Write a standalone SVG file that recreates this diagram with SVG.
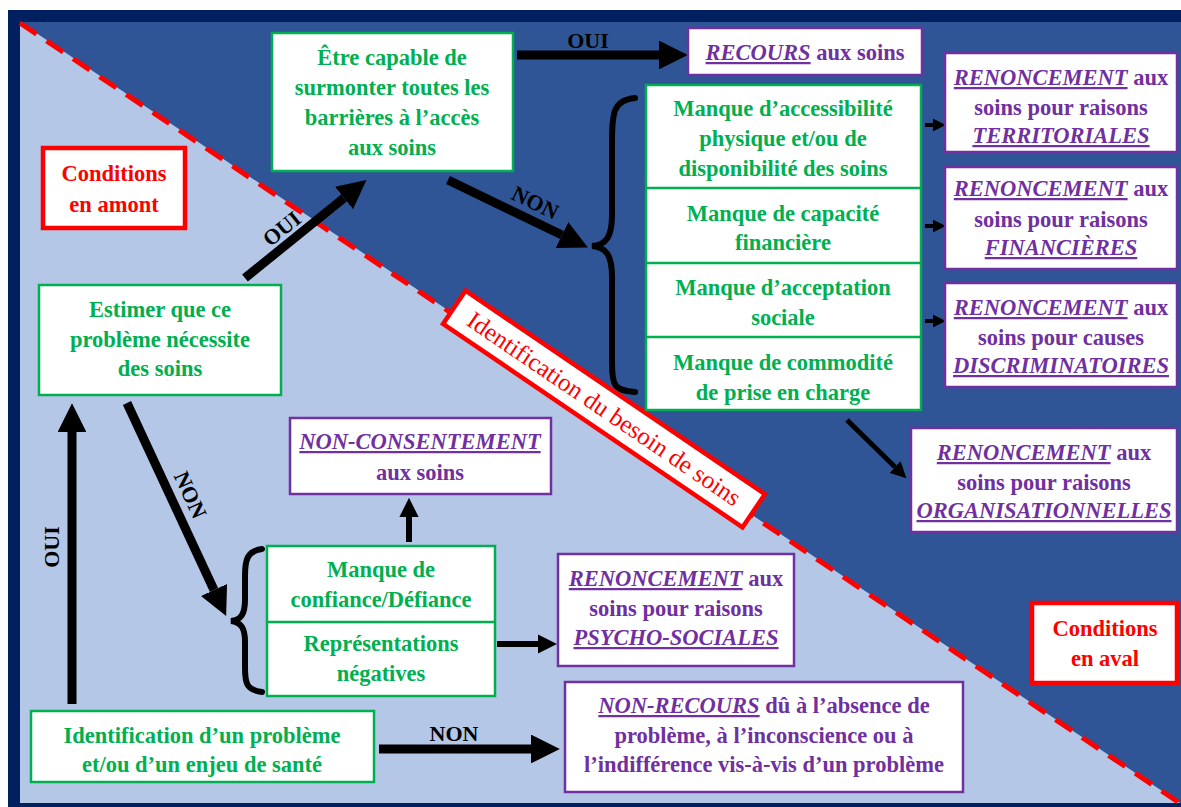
<svg xmlns="http://www.w3.org/2000/svg" width="1181" height="807" viewBox="0 0 1181 807">
<defs>
<style>
text{font-family:"Liberation Serif","Times New Roman",serif;font-weight:bold;font-size:22.5px;text-anchor:middle}
.g{fill:#00B050}
.p{fill:#7030A0}
.r{fill:#FF0000}
.k{fill:#000;font-size:22px}
.it{font-style:italic;text-decoration:underline}
.gb{fill:#fff;stroke:#00B050;stroke-width:2.5}
.pb{fill:#fff;stroke:#7030A0;stroke-width:2.5}
.rb{fill:#fff;stroke:#FF0000;stroke-width:4.5}
.sh{stroke:#000;fill:none}
.brace{stroke:#000;stroke-width:6;fill:none;stroke-linecap:round}
</style>
<marker id="ah" viewBox="0 0 10 10" refX="0" refY="5" markerWidth="3.2" markerHeight="3.2" orient="auto" markerUnits="strokeWidth">
<path d="M0,0 L10,5 L0,10 Z" fill="#000"/>
</marker>
</defs>
<rect x="0" y="0" width="1181" height="807" fill="#fff"/>
<g id="background">
<rect x="8" y="10" width="1173" height="797" fill="#002060"/>
<rect x="20" y="22" width="1161" height="781" fill="#2F5597"/>
<polygon points="20,22 1180,803 20,803" fill="#B4C7E7"/>
<line x1="20" y1="23" x2="1178" y2="802" stroke="#FF0000" stroke-width="5" stroke-dasharray="20 12"/>
</g>
<g id="connectors">
<line class="sh" x1="517" y1="55" x2="659" y2="55" stroke-width="9" marker-end="url(#ah)"/>
<line class="sh" x1="448" y1="180" x2="562" y2="235" stroke-width="9" marker-end="url(#ah)"/>
<line class="sh" x1="245" y1="278" x2="344" y2="198" stroke-width="9" marker-end="url(#ah)"/>
<line class="sh" x1="127" y1="403" x2="214" y2="590" stroke-width="9" marker-end="url(#ah)"/>
<line class="sh" x1="72" y1="704" x2="72" y2="432" stroke-width="9" marker-end="url(#ah)"/>
<line class="sh" x1="379" y1="749" x2="531" y2="749" stroke-width="9" marker-end="url(#ah)"/>
<line class="sh" x1="925" y1="125" x2="933" y2="125" stroke-width="4" marker-end="url(#ah)"/>
<line class="sh" x1="925" y1="226" x2="933" y2="226" stroke-width="4" marker-end="url(#ah)"/>
<line class="sh" x1="925" y1="321" x2="933" y2="321" stroke-width="4" marker-end="url(#ah)"/>
<line class="sh" x1="847" y1="420" x2="895" y2="467" stroke-width="5" marker-end="url(#ah)"/>
<line class="sh" x1="409" y1="542" x2="409" y2="517" stroke-width="6" marker-end="url(#ah)"/>
<line class="sh" x1="497" y1="644" x2="538" y2="644" stroke-width="6" marker-end="url(#ah)"/>
<path class="brace" d="M635,98 C614,100 612,112 612,140 L612,215 C612,237 606,245 592,246 C606,247 612,255 612,277 L612,362 C612,386 614,390 635,392"/>
<path class="brace" d="M262,549 C247,551 245,560 245,576 L245,600 C245,614 241,620 231,621 C241,622 245,628 245,642 L245,668 C245,684 247,690 262,692"/>
<text class="k" x="588" y="48">OUI</text>
<text class="k" transform="translate(535,203) rotate(26)" x="0" y="7">NON</text>
<text class="k" transform="translate(282,229) rotate(-39)" x="0" y="7">OUI</text>
<text class="k" transform="translate(190,495) rotate(65.6)" x="0" y="7">NON</text>
<text class="k" transform="translate(52,547) rotate(-90)" x="0" y="7">OUI</text>
<text class="k" x="454" y="741">NON</text>
</g>
<g id="cond-amont">
<rect class="rb" x="43" y="148" width="142" height="80"/>
<text class="r" x="114" y="181">Conditions</text>
<text class="r" x="114" y="212">en amont</text>
</g>
<g id="cond-aval">
<rect class="rb" x="1032" y="603" width="145" height="80"/>
<text class="r" x="1105" y="636">Conditions</text>
<text class="r" x="1105" y="666">en aval</text>
</g>
<g id="identification-besoin" transform="translate(604,409) rotate(34.2)">
<rect class="rb" x="-181" y="-20" width="362" height="40"/>
<text class="r" x="0" y="8" style="font-weight:normal;font-size:25px">Identification du besoin de soins</text>
</g>
<g id="surmonter">
<rect class="gb" x="272" y="33" width="241" height="138"/>
<text class="g" x="392" y="65">Être capable de</text>
<text class="g" x="392" y="95">surmonter toutes les</text>
<text class="g" x="392" y="125">barrières à l’accès</text>
<text class="g" x="392" y="155">aux soins</text>
</g>
<g id="recours">
<rect class="pb" x="688" y="28" width="234" height="47"/>
<text class="p" x="805" y="60"><tspan class="it">RECOURS</tspan>  aux soins</text>
</g>
<g id="barrieres">
<rect class="gb" x="646" y="85" width="275" height="325"/>
<line x1="646" y1="188" x2="921" y2="188" stroke="#00B050" stroke-width="2.5"/>
<line x1="646" y1="263" x2="921" y2="263" stroke="#00B050" stroke-width="2.5"/>
<line x1="646" y1="337" x2="921" y2="337" stroke="#00B050" stroke-width="2.5"/>
<text class="g" x="783" y="116">Manque d’accessibilité</text>
<text class="g" x="783" y="146">physique et/ou de</text>
<text class="g" x="783" y="176">disponibilité des soins</text>
<text class="g" x="783" y="221">Manque de capacité</text>
<text class="g" x="783" y="250">financière</text>
<text class="g" x="783" y="295">Manque d’acceptation</text>
<text class="g" x="783" y="325">sociale</text>
<text class="g" x="783" y="370">Manque de commodité</text>
<text class="g" x="783" y="400">de prise en charge</text>
</g>
<g id="ren-territoriales">
<rect class="pb" x="945" y="53" width="232" height="99"/>
<text class="p" x="1061" y="85"><tspan class="it">RENONCEMENT</tspan> aux</text>
<text class="p" x="1061" y="115">soins pour raisons</text>
<text class="p" x="1061" y="143"><tspan class="it">TERRITORIALES</tspan></text>
</g>
<g id="ren-financieres">
<rect class="pb" x="945" y="167" width="232" height="102"/>
<text class="p" x="1061" y="196"><tspan class="it">RENONCEMENT</tspan> aux</text>
<text class="p" x="1061" y="227">soins pour raisons</text>
<text class="p" x="1061" y="255"><tspan class="it">FINANCIÈRES</tspan></text>
</g>
<g id="ren-discriminatoires">
<rect class="pb" x="945" y="283" width="232" height="104"/>
<text class="p" x="1061" y="315"><tspan class="it">RENONCEMENT</tspan> aux</text>
<text class="p" x="1061" y="345">soins pour causes</text>
<text class="p" x="1061" y="373"><tspan class="it">DISCRIMINATOIRES</tspan></text>
</g>
<g id="ren-organisationnelles">
<rect class="pb" x="911" y="428" width="266" height="104"/>
<text class="p" x="1044" y="460"><tspan class="it">RENONCEMENT</tspan> aux</text>
<text class="p" x="1044" y="490">soins pour raisons</text>
<text class="p" x="1044" y="518"><tspan class="it">ORGANISATIONNELLES</tspan></text>
</g>
<g id="estimer">
<rect class="gb" x="39" y="285" width="242" height="110"/>
<text class="g" x="160" y="317">Estimer que ce</text>
<text class="g" x="160" y="347">problème nécessite</text>
<text class="g" x="160" y="376">des soins</text>
</g>
<g id="non-consentement">
<rect class="pb" x="290" y="418" width="261" height="76"/>
<text class="p" x="420" y="449"><tspan class="it">NON-CONSENTEMENT</tspan></text>
<text class="p" x="420" y="480">aux soins</text>
</g>
<g id="confiance">
<rect class="gb" x="267" y="546" width="228" height="150"/>
<line x1="267" y1="622" x2="495" y2="622" stroke="#00B050" stroke-width="2.5"/>
<text class="g" x="381" y="577">Manque de</text>
<text class="g" x="381" y="607">confiance/Défiance</text>
<text class="g" x="381" y="651">Représentations</text>
<text class="g" x="381" y="681">négatives</text>
</g>
<g id="ren-psychosociales">
<rect class="pb" x="558" y="554" width="236" height="112"/>
<text class="p" x="676" y="586"><tspan class="it">RENONCEMENT</tspan> aux</text>
<text class="p" x="676" y="616">soins pour raisons</text>
<text class="p" x="676" y="645"><tspan class="it">PSYCHO-SOCIALES</tspan></text>
</g>
<g id="identification-probleme">
<rect class="gb" x="31" y="711" width="343" height="71"/>
<text class="g" x="202" y="743">Identification d’un problème</text>
<text class="g" x="202" y="772">et/ou d’un enjeu de santé</text>
</g>
<g id="non-recours">
<rect class="pb" x="565" y="682" width="398" height="110"/>
<text class="p" x="764" y="713"><tspan class="it">NON-RECOURS</tspan> dû à l’absence de</text>
<text class="p" x="764" y="743">problème, à l’inconscience ou à</text>
<text class="p" x="764" y="772">l’indifférence vis-à-vis d’un problème</text>
</g>
</svg>
